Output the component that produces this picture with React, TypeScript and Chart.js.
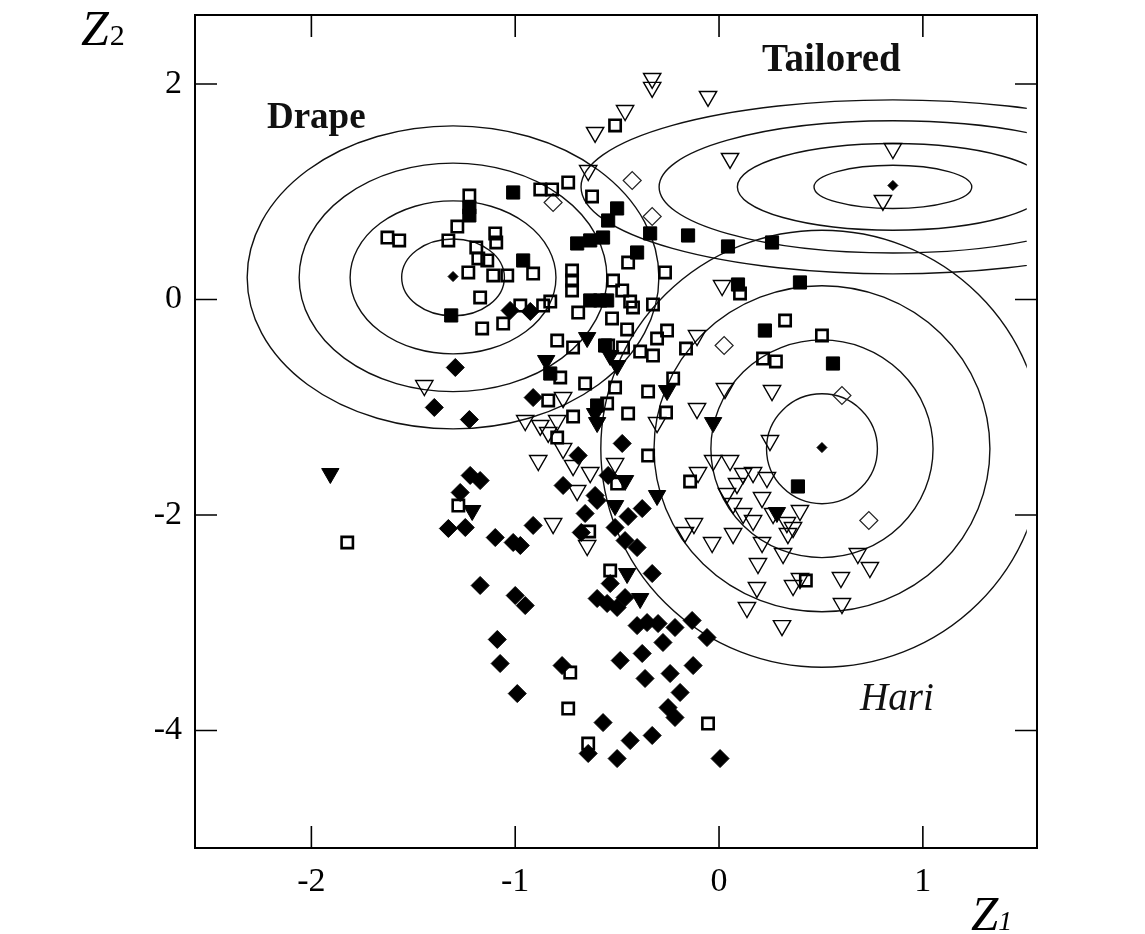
import React, { useEffect, useRef } from 'react';
import { Chart, registerables } from 'chart.js';

Chart.register(...registerables);

// ---------- tick values ----------
const xTickValues = [-2, -1, 0, 1];
const yTickValues = [-4, -2, 0, 2];

// ---------- point groups [Z1, Z2] ----------
const openSquares: [number, number][] = [
  [-1.627, 0.575], [-1.569, 0.548], [-1.225, 0.965], [-1.284, 0.677], [-1.328, 0.548], [-1.181, 0.381],
  [-1.137, 0.362], [-1.23, 0.251], [-1.172, 0.019], [-1.162, -0.269], [-1.098, 0.613], [-1.093, 0.529],
  [-1.108, 0.223], [-1.039, 0.223], [-0.912, 0.241], [-1.059, -0.223], [-0.975, -0.056], [-0.863, -0.056],
  [-0.828, -0.019], [-0.877, 1.021], [-0.819, 1.021], [-0.74, 1.086], [-0.623, 0.956], [-0.51, 1.615],
  [-0.721, 0.269], [-0.721, 0.176], [-0.721, 0.084], [-0.52, 0.176], [-0.475, 0.084], [-0.436, -0.019],
  [-0.422, -0.074], [-0.446, 0.343], [-0.265, 0.251], [-0.324, -0.046], [-0.691, -0.121], [-0.525, -0.176],
  [-0.451, -0.278], [-0.255, -0.288], [-0.304, -0.362], [-0.794, -0.381], [-0.716, -0.445], [-0.544, -0.427],
  [-0.471, -0.445], [-0.387, -0.483], [-0.324, -0.52], [-0.779, -0.724], [-0.657, -0.78], [-0.51, -0.817],
  [-0.348, -0.854], [-0.225, -0.733], [-0.838, -0.937], [-0.549, -0.965], [-0.716, -1.086], [-0.446, -1.058],
  [-0.26, -1.049], [-0.794, -1.281], [-0.348, -1.448], [-0.5, -1.708], [-0.142, -1.689], [-0.637, -2.153],
  [-1.279, -1.912], [-1.824, -2.255], [-0.534, -2.515], [-0.73, -3.462], [-0.74, -3.796], [-0.642, -4.121],
  [-0.054, -3.935], [0.103, 0.056], [0.324, -0.195], [0.505, -0.334], [0.216, -0.548], [0.279, -0.575],
  [0.426, -2.608], [-1.191, 0.483], [-0.162, -0.455],
];

const filledSquares: [number, number][] = [
  [-1.225, 0.854], [-1.225, 0.78], [-1.314, -0.148], [-1.01, 0.993], [-0.5, 0.845], [-0.544, 0.733],
  [-0.338, 0.613], [-0.152, 0.594], [0.044, 0.492], [0.26, 0.529], [-0.696, 0.52], [-0.632, 0.548],
  [-0.569, 0.575], [-0.402, 0.436], [-0.961, 0.362], [-0.632, -0.009], [-0.583, -0.009], [-0.549, -0.009],
  [0.093, 0.139], [0.397, 0.158], [0.225, -0.288], [0.559, -0.594], [0.387, -1.735], [-0.559, -0.427],
  [-0.828, -0.687], [-0.598, -0.984],
];

const openTriangles: [number, number][] = [
  [-0.328, 2.051], [-0.328, 1.968], [-0.054, 1.884], [-0.461, 1.754], [-0.608, 1.55], [0.054, 1.309],
  [-0.642, 1.197], [0.853, 1.401], [0.804, 0.919], [0.015, 0.13], [-0.108, -0.334], [-1.446, -0.798],
  [-0.765, -0.91], [-0.951, -1.123], [-0.877, -1.169], [-0.794, -1.123], [-0.838, -1.234], [-0.765, -1.383],
  [-0.887, -1.494], [-0.716, -1.541], [-0.632, -1.606], [-0.51, -1.522], [-0.696, -1.773], [-0.814, -2.079],
  [-0.647, -2.283], [-0.304, -1.142], [-0.108, -1.012], [0.029, -0.826], [0.26, -0.845], [0.25, -1.309],
  [-0.103, -1.606], [-0.029, -1.494], [0.054, -1.494], [0.118, -1.615], [0.167, -1.606], [0.235, -1.652],
  [0.039, -1.8], [0.088, -1.708], [0.211, -1.838], [0.069, -1.893], [0.118, -1.986], [0.167, -2.051],
  [0.265, -1.986], [0.333, -2.07], [0.363, -2.116], [0.397, -1.958], [0.338, -2.172], [0.211, -2.255],
  [0.069, -2.172], [-0.034, -2.255], [-0.123, -2.079], [-0.167, -2.162], [0.191, -2.45], [0.314, -2.357],
  [0.681, -2.357], [0.74, -2.487], [0.598, -2.58], [0.363, -2.654], [0.397, -2.589], [0.186, -2.673],
  [0.137, -2.858], [0.603, -2.821], [0.309, -3.026],
];

const filledTriangles: [number, number][] = [
  [-1.907, -1.615], [-1.211, -1.958], [-0.848, -0.566], [-0.647, -0.353], [-0.534, -0.52], [-0.5, -0.613],
  [-0.608, -1.058], [-0.598, -1.142], [-0.461, -1.68], [-0.51, -1.912], [-0.304, -1.819], [-0.451, -2.543],
  [-0.387, -2.775], [-0.255, -0.845], [-0.029, -1.142], [0.284, -1.977],
];

const filledDiamonds: [number, number][] = [
  [-1.294, -0.631], [-1.397, -1.002], [-1.225, -1.114], [-1.025, -0.102], [-0.926, -0.111], [-0.912, -0.91],
  [-0.691, -1.448], [-0.475, -1.336], [-0.544, -1.633], [-0.765, -1.726], [-0.608, -1.819], [-0.657, -1.986],
  [-0.446, -2.014], [-0.377, -1.94], [-0.51, -2.116], [-0.676, -2.162], [-0.461, -2.237], [-0.402, -2.302],
  [-0.534, -2.636], [-0.328, -2.543], [-0.598, -2.775], [-0.549, -2.821], [-0.5, -2.858], [-0.461, -2.766],
  [-0.402, -3.026], [-0.353, -2.998], [-0.299, -3.007], [-0.216, -3.044], [-0.132, -2.979], [-0.059, -3.137],
  [-0.275, -3.183], [-0.485, -3.35], [-0.377, -3.285], [-0.127, -3.397], [-0.363, -3.517], [-0.24, -3.471],
  [-0.191, -3.647], [-0.25, -3.787], [-0.216, -3.879], [-0.77, -3.397], [-0.569, -3.926], [-0.328, -4.046],
  [-0.436, -4.093], [-0.642, -4.213], [-0.5, -4.26], [0.005, -4.26], [-1.221, -1.633], [-1.172, -1.68],
  [-1.27, -1.791], [-1.328, -2.125], [-1.245, -2.116], [-1.098, -2.209], [-1.01, -2.255], [-0.975, -2.283],
  [-0.912, -2.097], [-1.172, -2.654], [-1.0, -2.747], [-0.951, -2.84], [-1.088, -3.155], [-1.074, -3.378],
  [-0.99, -3.657], [-0.598, -1.865],
];

const openDiamonds: [number, number][] = [
  [-0.814, 0.9], [-0.426, 1.104], [-0.328, 0.77], [0.025, -0.427], [0.603, -0.891], [0.735, -2.051],
];

const groupCentroids: [number, number][] = [
  [-1.305, 0.213], [0.853, 1.058], [0.505, -1.374],
];

// ---------- density contours (one row per group) ----------
const groupNames = ['Drape', 'Tailored', 'Hari'];
const contourCenterX = [-1.305, 0.853, 0.505];
const contourCenterY = [0.205, 1.045, -1.385];
const drapeRadiusX = [0.252, 0.505, 0.755, 1.01];
const drapeRadiusY = [0.357, 0.71, 1.06, 1.406];
const tailoredRadiusX = [0.387, 0.763, 1.147, 1.53];
const tailoredRadiusY = [0.201, 0.402, 0.613, 0.807];
const hariRadiusX = [0.272, 0.545, 0.824, 1.085];
const hariRadiusY = [0.51, 1.01, 1.513, 2.028];
const contourGridMaxX = 1.51;

// label anchors in data units (left / baseline)
const groupLabelX = [-2.218, 0.211, 0.692];
const groupLabelY = [1.596, 2.116, -3.814];

const SERIF = '"Liberation Serif", "Times New Roman", serif';

const toXY = (arr: [number, number][]) => arr.map(([x, y]) => ({ x, y }));

const contourPlugin = {
  id: 'contours',
  beforeDatasetsDraw(chart: any) {
    const { ctx, chartArea } = chart;
    const xs = chart.scales.x;
    const ys = chart.scales.y;
    const radiiX = [drapeRadiusX, tailoredRadiusX, hariRadiusX];
    const radiiY = [drapeRadiusY, tailoredRadiusY, hariRadiusY];
    ctx.save();
    ctx.beginPath();
    const clipRight = Math.min(xs.getPixelForValue(contourGridMaxX), chartArea.right);
    ctx.rect(chartArea.left, chartArea.top, clipRight - chartArea.left, chartArea.bottom - chartArea.top);
    ctx.clip();
    ctx.strokeStyle = '#111';
    ctx.lineWidth = 1.4;
    contourCenterX.forEach((cx, i) => {
      const cy = contourCenterY[i];
      const px = xs.getPixelForValue(cx);
      const py = ys.getPixelForValue(cy);
      radiiX[i].forEach((rx, j) => {
        const ry = radiiY[i][j];
        const rxp = Math.abs(xs.getPixelForValue(cx + rx) - px);
        const ryp = Math.abs(ys.getPixelForValue(cy + ry) - py);
        ctx.beginPath();
        ctx.ellipse(px, py, rxp, ryp, 0, 0, Math.PI * 2);
        ctx.stroke();
      });
    });
    ctx.restore();
  },
};

const framePlugin = {
  id: 'frame',
  afterDraw(chart: any) {
    const { ctx, chartArea } = chart;
    const xs = chart.scales.x;
    const ys = chart.scales.y;
    const { left, right, top, bottom } = chartArea;
    const tick = 22;
    ctx.save();
    ctx.strokeStyle = '#000';
    ctx.lineWidth = 1.6;
    xTickValues.forEach((v) => {
      const p = xs.getPixelForValue(v);
      ctx.beginPath();
      ctx.moveTo(p, bottom);
      ctx.lineTo(p, bottom - tick);
      ctx.moveTo(p, top);
      ctx.lineTo(p, top + tick);
      ctx.stroke();
    });
    yTickValues.forEach((v) => {
      const p = ys.getPixelForValue(v);
      ctx.beginPath();
      ctx.moveTo(left, p);
      ctx.lineTo(left + tick, p);
      ctx.moveTo(right, p);
      ctx.lineTo(right - tick, p);
      ctx.stroke();
    });
    ctx.lineWidth = 2;
    ctx.strokeRect(left, top, right - left, bottom - top);

    // group labels
    ctx.fillStyle = '#111';
    ctx.textBaseline = 'alphabetic';
    ctx.textAlign = 'left';
    groupNames.forEach((name, i) => {
      ctx.font = i === 2 ? `italic 39px ${SERIF}` : `bold ${i === 1 ? 39 : 37}px ${SERIF}`;
      ctx.fillText(name, xs.getPixelForValue(groupLabelX[i]), ys.getPixelForValue(groupLabelY[i]));
    });

    // axis titles
    ctx.fillStyle = '#000';
    ctx.font = `italic 50px ${SERIF}`;
    ctx.fillText('Z', left - 114, top + 30);
    let w = ctx.measureText('Z').width;
    ctx.font = `30px ${SERIF}`;
    ctx.fillText('2', left - 114 + w + 1, top + 30);

    ctx.font = `italic 49px ${SERIF}`;
    ctx.fillText('Z', right - 66, bottom + 82);
    w = ctx.measureText('Z').width;
    ctx.font = `italic 28px ${SERIF}`;
    ctx.fillText('1', right - 66 + w, bottom + 82);
    ctx.restore();
  },
};

export default function App() {
  const canvasRef = useRef<HTMLCanvasElement | null>(null);

  useEffect(() => {
    if (!canvasRef.current) return;
    const open = 'rgba(0,0,0,0)';
    const chart = new Chart(canvasRef.current, {
      type: 'scatter',
      data: {
        datasets: [
          {
            label: 'open square',
            data: toXY(openSquares),
            pointStyle: 'rect',
            pointRadius: 8,
            pointBorderWidth: 2.6,
            pointBorderColor: '#000',
            pointBackgroundColor: open,
          },
          {
            label: 'filled square',
            data: toXY(filledSquares),
            pointStyle: 'rect',
            pointRadius: 9.3,
            pointBorderWidth: 1,
            pointBorderColor: '#000',
            pointBackgroundColor: '#000',
          },
          {
            label: 'open triangle',
            data: toXY(openTriangles),
            pointStyle: 'triangle',
            rotation: 180,
            pointRotation: 180,
            pointRadius: 10,
            pointBorderWidth: 1.4,
            pointBorderColor: '#000',
            pointBackgroundColor: open,
          },
          {
            label: 'filled triangle',
            data: toXY(filledTriangles),
            pointStyle: 'triangle',
            rotation: 180,
            pointRotation: 180,
            pointRadius: 10,
            pointBorderWidth: 1,
            pointBorderColor: '#000',
            pointBackgroundColor: '#000',
          },
          {
            label: 'filled diamond',
            data: toXY(filledDiamonds),
            pointStyle: 'rectRot',
            pointRadius: 9,
            pointBorderWidth: 1,
            pointBorderColor: '#000',
            pointBackgroundColor: '#000',
          },
          {
            label: 'open diamond',
            data: toXY(openDiamonds),
            pointStyle: 'rectRot',
            pointRadius: 9,
            pointBorderWidth: 1.2,
            pointBorderColor: '#222',
            pointBackgroundColor: open,
          },
          {
            label: 'group centroid',
            data: toXY(groupCentroids),
            pointStyle: 'rectRot',
            pointRadius: 5,
            pointBorderWidth: 1,
            pointBorderColor: '#000',
            pointBackgroundColor: '#000',
          },
        ] as any,
      },
      options: {
        animation: false,
        responsive: true,
        maintainAspectRatio: false,
        events: [],
        layout: { padding: { left: 0, top: 15, right: 108, bottom: 0 } },
        plugins: {
          legend: { display: false },
          tooltip: { enabled: false },
          title: { display: false },
        },
        scales: {
          x: {
            type: 'linear',
            min: -2.571,
            max: 1.56,
            grid: { display: false, drawTicks: false, tickLength: 0 },
            border: { display: false },
            afterBuildTicks: (s: any) => {
              s.ticks = xTickValues.map((v) => ({ value: v }));
            },
            afterFit: (s: any) => {
              s.height = 86;
              s.paddingLeft = 0;
              s.paddingRight = 0;
            },
            ticks: {
              autoSkip: false,
              maxRotation: 0,
              padding: 14,
              color: '#000',
              font: { family: SERIF, size: 34 },
              callback: (v: any) => String(v),
            },
          },
          y: {
            type: 'linear',
            min: -5.09,
            max: 2.64,
            grid: { display: false, drawTicks: false, tickLength: 0 },
            border: { display: false },
            afterBuildTicks: (s: any) => {
              s.ticks = yTickValues.map((v) => ({ value: v }));
            },
            afterFit: (s: any) => {
              s.width = 195;
              s.paddingTop = 0;
              s.paddingBottom = 0;
            },
            ticks: {
              autoSkip: false,
              padding: 13,
              color: '#000',
              font: { family: SERIF, size: 34 },
              callback: (v: any) => String(v),
            },
          },
        },
      } as any,
      plugins: [contourPlugin, framePlugin],
    });
    return () => chart.destroy();
  }, []);

  return (
    <div style={{ position: 'absolute', left: 0, top: 0, width: 1145, height: 934, background: '#fff' }}>
      <canvas ref={canvasRef} />
    </div>
  );
}
